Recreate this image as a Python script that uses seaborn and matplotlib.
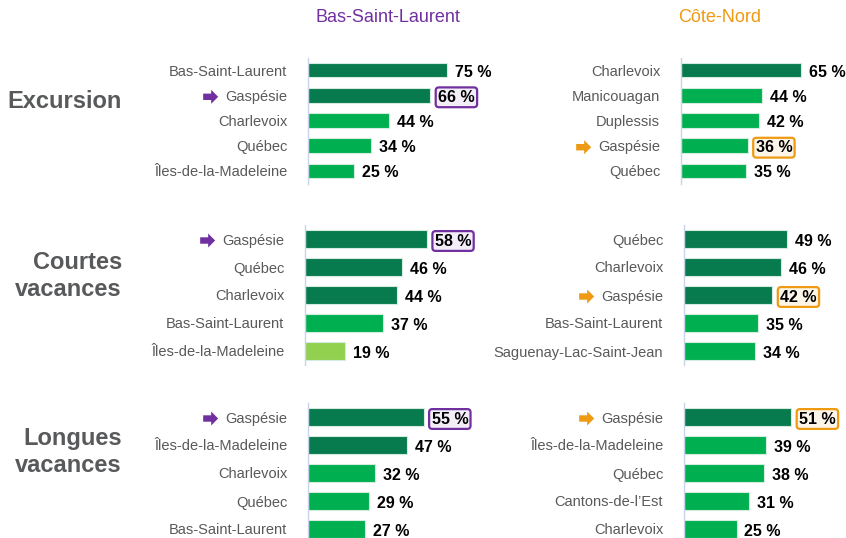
import matplotlib
matplotlib.use('Agg')
import matplotlib.pyplot as plt
import matplotlib.transforms as mtransforms
from matplotlib.patches import Polygon
import seaborn as sns
import pandas as pd

sns.set_theme(style='white')
plt.rcParams['font.family'] = ['Liberation Sans', 'DejaVu Sans']

# ---------------- data ----------------
column_titles = ['Bas-Saint-Laurent', 'Côte-Nord']
row_titles = ['Excursion', 'Courtes\nvacances', 'Longues\nvacances']
highlight_region = 'Gaspésie'

exc_bsl_regions = ['Bas-Saint-Laurent', 'Gaspésie', 'Charlevoix', 'Québec', 'Îles-de-la-Madeleine']
exc_bsl_values = [75, 66, 44, 34, 25]
exc_bsl_levels = ['high', 'high', 'mid', 'mid', 'mid']

exc_cn_regions = ['Charlevoix', 'Manicouagan', 'Duplessis', 'Gaspésie', 'Québec']
exc_cn_values = [65, 44, 42, 36, 35]
exc_cn_levels = ['high', 'mid', 'mid', 'mid', 'mid']

cv_bsl_regions = ['Gaspésie', 'Québec', 'Charlevoix', 'Bas-Saint-Laurent', 'Îles-de-la-Madeleine']
cv_bsl_values = [58, 46, 44, 37, 19]
cv_bsl_levels = ['high', 'high', 'high', 'mid', 'low']

cv_cn_regions = ['Québec', 'Charlevoix', 'Gaspésie', 'Bas-Saint-Laurent', 'Saguenay-Lac-Saint-Jean']
cv_cn_values = [49, 46, 42, 35, 34]
cv_cn_levels = ['high', 'high', 'high', 'mid', 'mid']

lv_bsl_regions = ['Gaspésie', 'Îles-de-la-Madeleine', 'Charlevoix', 'Québec', 'Bas-Saint-Laurent']
lv_bsl_values = [55, 47, 32, 29, 27]
lv_bsl_levels = ['high', 'high', 'mid', 'mid', 'mid']

lv_cn_regions = ['Gaspésie', 'Îles-de-la-Madeleine', 'Québec', 'Cantons-de-l’Est', 'Charlevoix']
lv_cn_values = [51, 39, 38, 31, 25]
lv_cn_levels = ['high', 'mid', 'mid', 'mid', 'mid']

panels = [
    [(exc_bsl_regions, exc_bsl_values, exc_bsl_levels), (exc_cn_regions, exc_cn_values, exc_cn_levels)],
    [(cv_bsl_regions, cv_bsl_values, cv_bsl_levels), (cv_cn_regions, cv_cn_values, cv_cn_levels)],
    [(lv_bsl_regions, lv_bsl_values, lv_bsl_levels), (lv_cn_regions, lv_cn_values, lv_cn_levels)],
]

# ---------------- style / layout ----------------
W, H = 846, 538
level_colors = {'high': '#077A4E', 'mid': '#00B050', 'low': '#92D050'}
col_colors = ['#7030A0', '#EE9A12']
box_fills = ['#F3EDF8', '#FDF5E8']
label_gray = '#595959'

axis_x = [[308, 681], [305, 684], [308, 684]]
row_y = [(57.5, 183.5), (225, 365), (403, 543)]
row_scale = [1.85, 2.1, 2.1]      # px per percent
row_barw = [0.58, 0.63, 0.64]
ax_w = 165

fig = plt.figure(figsize=(W / 100, H / 100), dpi=100)


def px_axes(left, top, width, bottom):
    return fig.add_axes([left / W, 1 - bottom / H, width / W, (bottom - top) / H])


axes_info = []
for r in range(3):
    for c in range(2):
        regions, values, levels = panels[r][c]
        top, bottom = row_y[r]
        ax = px_axes(axis_x[r][c], top, ax_w, bottom)
        df = pd.DataFrame({'region': regions, 'value': values, 'level': levels})
        sns.barplot(data=df, x='value', y='region', hue='level', palette=level_colors,
                    dodge=False, legend=False, width=row_barw[r], ax=ax, saturation=1,
                    edgecolor='#D3ECDF', linewidth=0.8, order=regions)
        ax.set_xlim(0, ax_w / row_scale[r])
        ax.set_ylim(len(regions) - 0.5, -0.5)
        ax.set_xlabel('')
        ax.set_ylabel('')
        ax.set_xticks([])
        for s in ['top', 'right', 'bottom']:
            ax.spines[s].set_visible(False)
        ax.spines['left'].set_color('#C9D4EA')
        ax.spines['left'].set_linewidth(1.0)
        ax.tick_params(axis='y', length=0, pad=15, labelsize=10.5, labelcolor=label_gray)
        ax.set_facecolor('none')
        for i, (reg, v) in enumerate(zip(regions, values)):
            kw = dict(xy=(v, i), xytext=(8, -2), textcoords='offset pixels',
                      ha='left', va='center', fontsize=11.5, fontweight='bold',
                      color='black', annotation_clip=False)
            if reg == highlight_region:
                kw['bbox'] = dict(boxstyle='round,pad=0.15,rounding_size=0.2',
                                  fc=box_fills[c], ec=col_colors[c], lw=1.6)
            ax.annotate(f'{v} %', **kw)
        axes_info.append((ax, regions, c))

# column titles
for c, t in enumerate(column_titles):
    xc = [388, 720][c]
    fig.text(xc / W, 1 - 18 / H, t, ha='center', va='center', fontsize=13,
             color=col_colors[c])

# row titles
for r, t in enumerate(row_titles):
    yc = [101, 276, 452][r]
    fig.text(122 / W, 1 - yc / H, t, ha='right', va='center', fontsize=17,
             fontweight='bold', color='#58595B', linespacing=1.2)

# arrows next to highlighted region labels
fig.canvas.draw()
renderer = fig.canvas.get_renderer()
ident = mtransforms.IdentityTransform()
for ax, regions, c in axes_info:
    for lbl in ax.get_yticklabels():
        if lbl.get_text() == highlight_region:
            bb = lbl.get_window_extent(renderer)
            xr = bb.x0 - 7
            yc = (bb.y0 + bb.y1) / 2
            L, hl, sh, hh = 15, 7, 3.2, 7
            pts = [(xr - L, yc - sh), (xr - hl, yc - sh), (xr - hl, yc - hh), (xr, yc),
                   (xr - hl, yc + hh), (xr - hl, yc + sh), (xr - L, yc + sh)]
            fig.add_artist(Polygon(pts, closed=True, transform=ident,
                                   fc=col_colors[c], ec='none'))

fig.savefig('out.png', dpi=100)
